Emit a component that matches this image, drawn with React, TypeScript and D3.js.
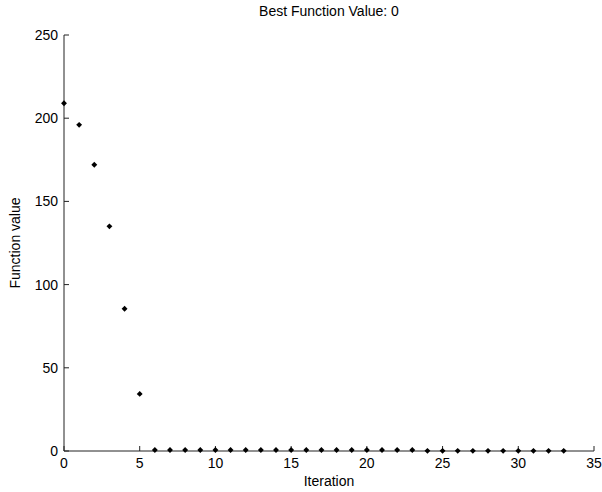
import React from 'react';
import * as d3 from 'd3';

// iteration number and best function value at that iteration
const iterations = [0, 1, 2, 3, 4, 5, 6, 7, 8, 9, 10, 11, 12, 13, 14, 15, 16, 17, 18, 19, 20, 21, 22, 23, 24, 25, 26, 27, 28, 29, 30, 31, 32, 33];
const values = [209, 196, 172, 135, 85.5, 34.3, 0.6, 0.6, 0.6, 0.6, 0.6, 0.6, 0.6, 0.6, 0.6, 0.6, 0.6, 0.6, 0.6, 0.6, 0.6, 0.6, 0.6, 0.6, 0.1, 0.1, 0.1, 0.1, 0.1, 0.1, 0.1, 0.1, 0.1, 0.1];
const xTicks = [0, 5, 10, 15, 20, 25, 30, 35];
const yTicks = [0, 50, 100, 150, 200, 250];

const title = 'Best Function Value: 0';
const xLabel = 'Iteration';
const yLabel = 'Function value';

const W = 602;
const H = 492;
const left = 64;
const right = 594;
const top = 35;
const bottom = 451;
const font = "'Liberation Sans', Arial, sans-serif";

const App = () => {
  const x = d3.scaleLinear().domain([0, 35]).range([left, right]);
  const y = d3.scaleLinear().domain([0, 250]).range([bottom, top]);
  const marker = d3.symbol().type((d3 as any).symbolDiamond2 || d3.symbolCircle).size(22);

  return (
    <svg width={W} height={H} style={{ position: 'absolute', left: 0, top: 0, background: '#fff' }}>
      <rect width={W} height={H} fill="#fff" />
      {/* axes */}
      <line x1={left} x2={left} y1={top} y2={bottom} stroke="#222" strokeWidth={1} />
      <line x1={left} x2={right} y1={bottom} y2={bottom} stroke="#222" strokeWidth={1} />
      {yTicks.map(t => (
        <g key={'y' + t}>
          <line x1={left} x2={left + 5} y1={y(t)} y2={y(t)} stroke="#222" />
          <text x={left - 6} y={y(t)} dy="0.35em" textAnchor="end" fontFamily={font} fontSize={14} fill="#000">{t}</text>
        </g>
      ))}
      {xTicks.map(t => (
        <g key={'x' + t}>
          <line x1={x(t)} x2={x(t)} y1={bottom} y2={bottom - 5} stroke="#222" />
          <text x={x(t)} y={bottom + 17} textAnchor="middle" fontFamily={font} fontSize={14} fill="#000">{t}</text>
        </g>
      ))}
      {/* points */}
      {values.map((v, i) => (
        <path key={'p' + i} d={marker() as string} transform={`translate(${x(iterations[i])},${y(v)})`} fill="#000" />
      ))}
      <text x={(left + right) / 2} y={16} textAnchor="middle" fontFamily={font} fontSize={14} fill="#000">{title}</text>
      <text x={(left + right) / 2} y={486} textAnchor="middle" fontFamily={font} fontSize={14} fill="#000">{xLabel}</text>
      <text transform={`translate(20,${(top + bottom) / 2}) rotate(-90)`} textAnchor="middle" fontFamily={font} fontSize={14} fill="#000">{yLabel}</text>
    </svg>
  );
};

export default App;
